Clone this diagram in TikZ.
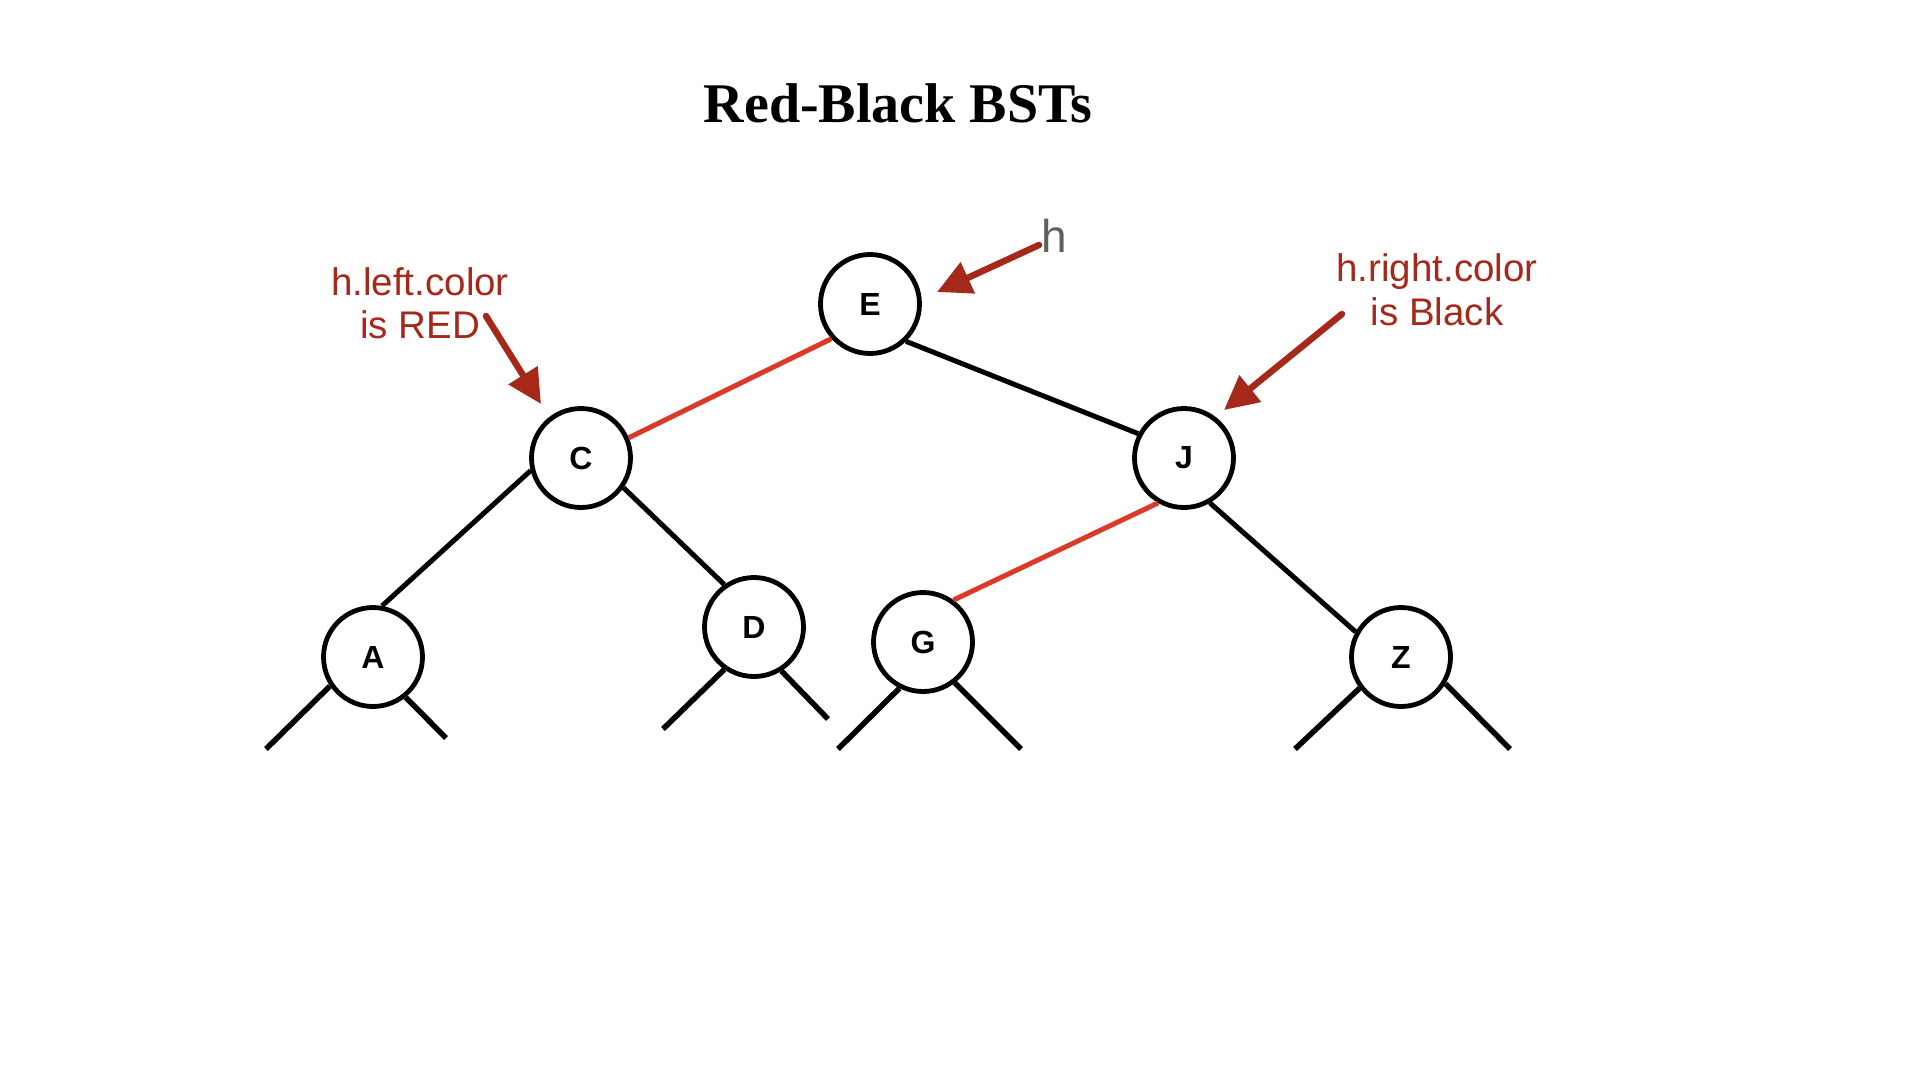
\documentclass[tikz,border=0pt]{standalone}
\usepackage{fontspec}
\setmainfont{Liberation Sans}
\newfontfamily\titlefont{Liberation Serif}
\usetikzlibrary{arrows.meta}
\definecolor{rededge}{RGB}{220,58,40}
\definecolor{annot}{RGB}{166,40,26}
\definecolor{hgray}{RGB}{95,95,95}
\tikzset{
  bst/.style={circle, draw=black, line width=4.8pt, minimum size=99pt, inner sep=0pt,
    font=\fontsize{32}{32}\selectfont\bfseries},
  blackedge/.style={draw=black, line width=5pt},
  rededge/.style={draw=rededge, line width=5pt},
  leafedge/.style={draw=black, line width=5.5pt},
  annarrow/.style={draw=annot, line width=6.5pt, line cap=round,
    -{Triangle[length=34pt,width=33pt]}},
  annotext/.style={text=annot, font=\fontsize{38.5}{43}\selectfont, anchor=base, inner sep=0pt},
}
\begin{document}
\begin{tikzpicture}[x=1pt,y=-1pt]
\useasboundingbox (0,0) rectangle (1920,1080);
% title
\node[anchor=base, inner sep=0pt, font=\titlefont\fontsize{56}{56}\selectfont\bfseries] (title) at (898,122) {Red-Black BSTs};
% tree nodes
\node[bst] (E) at (870,304) {E};
\node[bst] (C) at (581,458) {C};
\node[bst] (J) at (1184,458) {J};
\node[bst] (A) at (373,657) {A};
\node[bst] (D) at (754,627) {D};
\node[bst] (G) at (923,642) {G};
\node[bst] (Z) at (1401,657) {Z};
% edges
\draw[rededge] (E.222) -- (C.23);
\draw[blackedge] (E.314) -- (J.152);
\draw[blackedge] (C.194) -- (A.80);
\draw[blackedge] (C.325) -- (D.125);
\draw[rededge] (J.240) -- (G.54);
\draw[blackedge] (J.300) -- (Z.151);
% null links
\coordinate (A1) at (266,749);
\coordinate (A2) at (446,738);
\coordinate (D1) at (663,729);
\coordinate (D2) at (828,719);
\coordinate (G1) at (838,749);
\coordinate (G2) at (1021,749);
\coordinate (Z1) at (1295,749);
\coordinate (Z2) at (1510,749);
\draw[leafedge] (A.214) -- (A1);
\draw[leafedge] (A.309) -- (A2);
\draw[leafedge] (D.235) -- (D1);
\draw[leafedge] (D.302) -- (D2);
\draw[leafedge] (G.243) -- (G1);
\draw[leafedge] (G.308) -- (G2);
\draw[leafedge] (Z.217) -- (Z1);
\draw[leafedge] (Z.329) -- (Z2);
% annotations
\node[anchor=base, inner sep=0pt, text=hgray, font=\fontsize{46}{46}\selectfont] (h) at (1054,252) {h};
\coordinate (hs) at (1039,245);
\coordinate (ht) at (937,292);
\draw[annarrow] (hs) -- (ht);
\node[annotext] (l1) at (420,295) {h.left.color};
\node[annotext] (l2) at (420,338) {is RED};
\coordinate (ls) at (486,316);
\coordinate (lt) at (541,404);
\draw[annarrow] (ls) -- (lt);
\node[annotext] (r1) at (1437,281) {h.right.color};
\node[annotext] (r2) at (1437,325) {is Black};
\coordinate (rs) at (1342,314);
\coordinate (rt) at (1224,410);
\draw[annarrow] (rs) -- (rt);
\end{tikzpicture}
\end{document}
